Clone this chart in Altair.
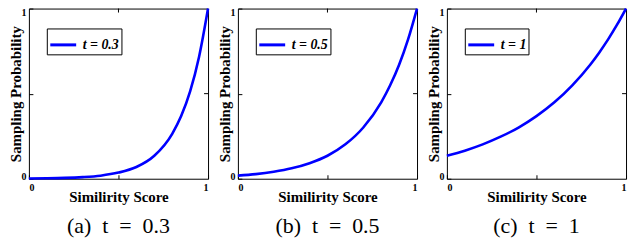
import altair as alt
import pandas as pd

x_vals = [0.0, 0.1, 0.2, 0.3, 0.4, 0.5, 0.6, 0.7, 0.8, 0.85, 0.9, 0.95, 1.0]
y_t03 = [0.0013, 0.0025, 0.0048, 0.0094, 0.018, 0.036, 0.069, 0.135, 0.264, 0.368, 0.513, 0.717, 1.0]
y_t05 = [0.018, 0.027, 0.041, 0.061, 0.091, 0.135, 0.202, 0.301, 0.449, 0.549, 0.670, 0.819, 1.0]
y_t1 = [0.135, 0.165, 0.202, 0.247, 0.301, 0.368, 0.449, 0.549, 0.670, 0.741, 0.819, 0.905, 1.0]

legend_labels = ["t = 0.3", "t = 0.5", "t = 1"]
captions = ["(a)\u2002t\u2002=\u20020.3", "(b)\u2002t\u2002=\u20020.5", "(c)\u2002t\u2002=\u20021"]
series = [y_t03, y_t05, y_t1]
tick_values = [0, 0.5, 1]
mid_ticks = [0.5]

SERIF = "Liberation Serif"
LABEL_EXPR = "datum.value == 0.5 ? '' : (datum.value == 0 ? '0' : '1')"
W, H = 180, 171
TICK = 4

y_label_offset = {
    "condition": [
        {"test": "datum.value == 1", "value": 4},
        {"test": "datum.value == 0", "value": -2},
    ],
    "value": 0,
}


def panel(ys, lab, cap):
    df = pd.DataFrame({"x": x_vals, "y": ys, "s": lab})
    tdf = pd.DataFrame({"v": mid_ticks})
    xs = alt.Scale(domain=[0, 1], nice=False)
    ysc = alt.Scale(domain=[0, 1], nice=False)
    line = alt.Chart(df).mark_line(strokeWidth=2.6, interpolate="monotone").encode(
        x=alt.X("x:Q", scale=xs,
                axis=alt.Axis(values=tick_values, title="Similirity Score",
                              labelExpr=LABEL_EXPR,
                              offset=-TICK, tickSize=TICK, domain=False, grid=False,
                              labelPadding=4, titlePadding=-3)),
        y=alt.Y("y:Q", scale=ysc,
                axis=alt.Axis(values=tick_values, title="Sampling Probability",
                              labelExpr=LABEL_EXPR, labelOffset=y_label_offset,
                              offset=-TICK, tickSize=TICK, domain=False, grid=False,
                              labelPadding=3, titlePadding=-3)),
        color=alt.Color("s:N", scale=alt.Scale(range=["#0000ff"]),
                        legend=alt.Legend(title=None, orient="none", legendX=18, legendY=20,
                                          symbolType="stroke", symbolSize=676,
                                          symbolStrokeWidth=3, strokeColor="black",
                                          fillColor="white", padding=2,
                                          labelOffset=5,
                                          labelFont=SERIF, labelFontSize=14,
                                          labelFontStyle="italic", labelFontWeight="bold",
                                          labelColor="black")),
    )
    top_ticks = alt.Chart(tdf).mark_rule(color="black", strokeWidth=1).encode(
        x=alt.X("v:Q", scale=xs), y=alt.value(0), y2=alt.value(TICK)
    )
    right_ticks = alt.Chart(tdf).mark_rule(color="black", strokeWidth=1).encode(
        y=alt.Y("v:Q", scale=ysc), x=alt.value(W), x2=alt.value(W - TICK)
    )
    return alt.layer(line, top_ticks, right_ticks).properties(
        width=W, height=H,
        title=alt.TitleParams(cap, orient="bottom", font=SERIF, fontSize=22,
                              fontWeight="normal", offset=12, color="black"),
    )


chart = alt.hconcat(
    *[panel(ys, lab, cap) for ys, lab, cap in zip(series, legend_labels, captions)],
    spacing=30, bounds="flush",
).resolve_scale(color="independent").configure_view(
    stroke="black", strokeWidth=1
).configure_axis(
    labelFont=SERIF, labelFontSize=10, labelFontWeight="bold", labelColor="black",
    titleFont=SERIF, titleFontSize=15, titleFontWeight="bold", titleColor="black",
    tickColor="black",
).configure_title(
    font=SERIF
).properties(
    padding={"left": 0, "top": -6, "right": 0, "bottom": 0}
)

chart.save("out.html", embed_options={"renderer": "svg", "actions": False})
